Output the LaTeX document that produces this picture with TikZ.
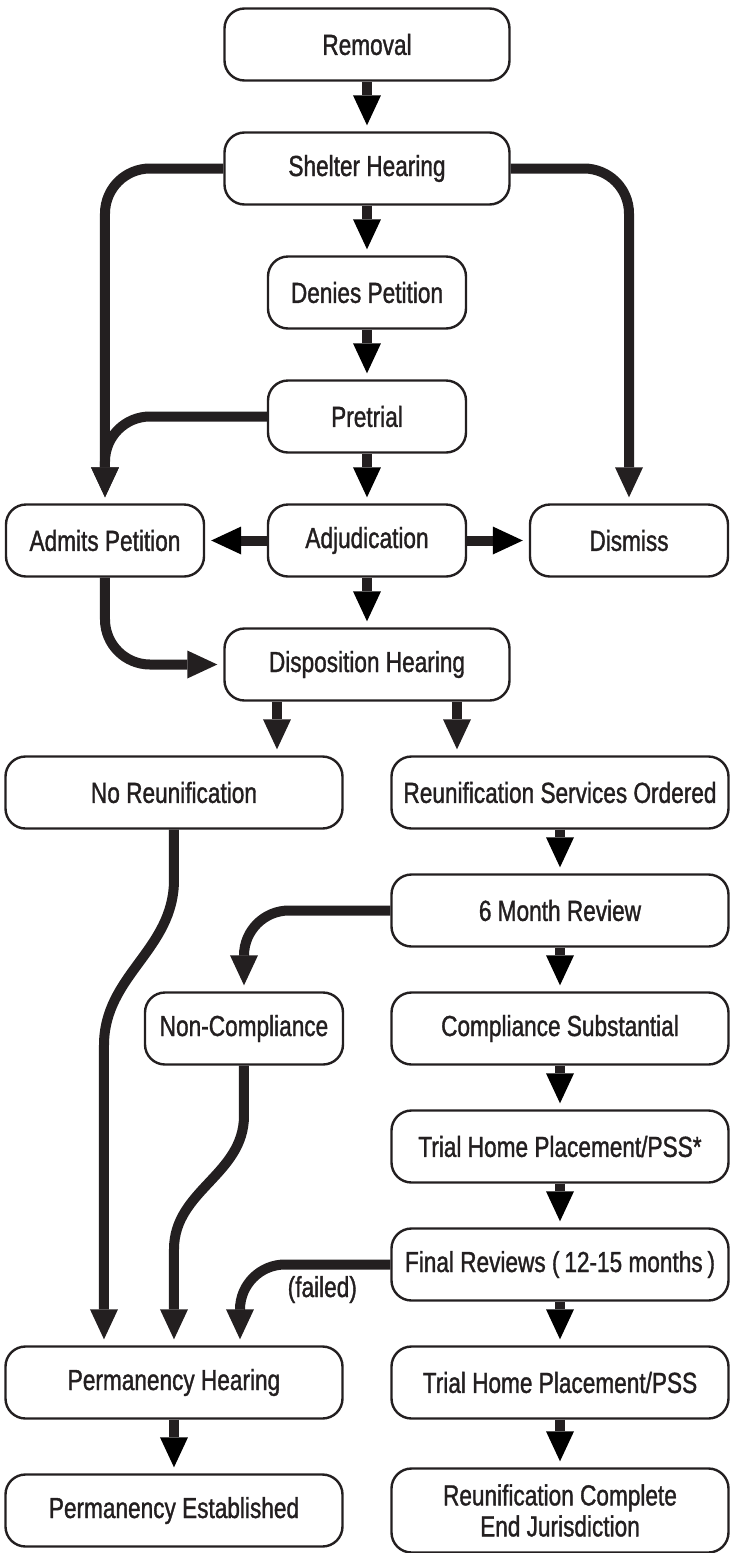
\documentclass[tikz,border=0pt]{standalone}
\usepackage{fontspec}
\setmainfont{Liberation Sans}[FakeStretch=0.78, FakeBold=1.2]
\usepackage{tikz}
\usetikzlibrary{arrows.meta,positioning,calc}
\definecolor{ink}{HTML}{231F20}

\begin{document}
\begin{tikzpicture}[>={Triangle[width=28pt,length=30pt,line width=0pt]}, node distance=124pt, text=ink, font=\fontsize{29}{31}\selectfont]
	\tikzstyle{box}=[draw=ink, line width=2.4pt, rounded corners=20pt, fill=white, align=center, inner sep=0pt, minimum height=72pt]
	\tikzstyle{wide}=[box, minimum width=285pt]
	\tikzstyle{small}=[box, minimum width=198pt]
	\tikzstyle{col}=[box, minimum width=337pt]
	\tikzstyle{flow}=[->, draw=ink, line width=10pt, shorten >=6pt]
	\tikzstyle{elbow}=[flow, rounded corners=45pt]
	\useasboundingbox (-367pt,44.5pt) rectangle (365pt,-1508.5pt);
	
	\node[wide]  (Rem)                 {Removal};
	\node[wide]  (Shel)[below of=Rem]  {Shelter Hearing};
	\node[small] (Den)[below of=Shel]  {Denies Petition};
	\node[small] (Pre)[below of=Den]   {Pretrial};
	\node[small] (Adj)[below of=Pre]   {Adjudication};
	\node[small] (Adm)[node distance=262pt, left of=Adj]   {Admits Petition};
	\node[small] (Dis)[node distance=262pt, right of=Adj]  {Dismiss};
	\node[wide]  (Disp)[below of=Adj]  {Disposition Hearing};
	
	\node[col]   (NoR)[node distance=128pt, below of=Disp, xshift=-193pt] {No Reunification};
	\node[col]   (RSO)[node distance=128pt, below of=Disp, xshift=193pt]  {Reunification Services Ordered};
	\node[col]   (Six)[node distance=118pt, below of=RSO]   {6 Month Review};
	\node[col]   (CS)[node distance=118pt, below of=Six]    {Compliance Substantial};
	\node[small] (NC)[node distance=316pt, left of=CS]      {Non-Compliance};
	\node[col]   (THP1)[node distance=118pt, below of=CS]   {Trial Home Placement/PSS*};
	\node[col]   (FR)[node distance=118pt, below of=THP1]   {Final Reviews (\,12-15 months\,)};
	\node[col]   (THP2)[node distance=118pt, below of=FR]   {Trial Home Placement/PSS};
	\node[col]   (PH)[node distance=386pt, left of=THP2]    {Permanency Hearing};
	\node[col]   (PE)[node distance=128pt, below of=PH]     {Permanency Established};
	\node[col, minimum height=84pt] (RC)[node distance=128pt, below of=THP2] {Reunification Complete\\End Jurisdiction};
	
	\path[flow]
	(Rem) edge (Shel)
	(Shel) edge (Den)
	(Den) edge (Pre)
	(Pre) edge (Adj)
	(Adj) edge (Adm)
	(Adj) edge (Dis)
	(Adj) edge (Disp);
	
	\draw[elbow] (Shel.west) -| (Adm.north);
	\draw[elbow] (Pre.west) -| (Adm.north);
	\draw[elbow] (Shel.east) -| (Dis.north);
	\draw[elbow] (Adm.south) |- (Disp.west);
	
	\coordinate (DL) at ([xshift=-90pt]Disp.south);
	\coordinate (DR) at ([xshift=90pt]Disp.south);
	\draw[flow] (DL) -- (DL |- NoR.north);
	\draw[flow] (DR) -- (DR |- RSO.north);
	
	\path[flow]
	(RSO) edge (Six)
	(Six) edge (CS)
	(CS) edge (THP1)
	(THP1) edge (FR)
	(FR) edge (THP2)
	(THP2) edge (RC)
	(PH) edge (PE);
	
	\draw[elbow] (Six.west) -| (NC.north);
	\coordinate (PF) at ([xshift=66pt]PH.north);
	\draw[elbow] (FR.west) -| (PF);
	\node (Fail) at ([xshift=-68pt,yshift=-25pt]FR.west) {(failed)};
	
	% s-shaped runs into the permanency hearing
	\coordinate (NR1) at ([yshift=-50pt]NoR.south);
	\path (PH.north) ++(-70pt,300pt) coordinate (NR2);
	\draw[flow] (NoR.south) -- (NR1) to[out=-90,in=90] (NR2) -- (NR2 |- PH.north);
	\coordinate (NC1) at ([yshift=-50pt]NC.south);
	\path (PH.north) ++(0,96pt) coordinate (NC2);
	\draw[flow] (NC.south) -- (NC1) to[out=-90,in=90] (NC2) -- (PH.north);
\end{tikzpicture}
\end{document}
